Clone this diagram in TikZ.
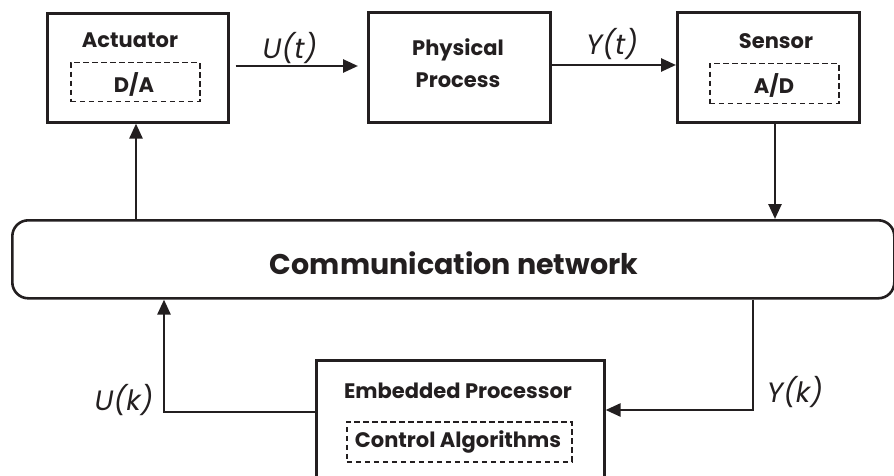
\documentclass[tikz,border=0pt]{standalone}
\usepackage{fontspec}
\setmainfont{Poppins}
\usetikzlibrary{arrows.meta}
\definecolor{ink}{HTML}{231F20}
\begin{document}
\begin{tikzpicture}[x=1pt,y=-1pt,
  box/.style={draw=ink,line width=2.6pt},
  dbox/.style={draw=ink,line width=1.5pt,dash pattern=on 5.5pt off 3.5pt},
  lbl/.style={font=\bfseries\fontsize{21}{32}\selectfont,text=ink,inner sep=0pt},
  sig/.style={font=\itshape\fontsize{28}{32}\selectfont,text=ink,inner sep=0pt},
  conn/.style={draw=ink,line width=2.6pt,-{Triangle[length=15pt,width=13pt]}}]
\useasboundingbox (0,0) rectangle (894,476);
\clip (0,0) rectangle (894,476);
% Actuator
\node[box,minimum width=181pt,minimum height=109pt,anchor=north west] (act) at (46,12) {};
\node[lbl] (actl) at (130,40) {Actuator};
\node[dbox,minimum width=129pt,minimum height=39pt,anchor=north west] (da) at (70,62) {};
\node[lbl] (dal) at (134,84) {D/A};
% Physical process
\node[box,minimum width=182pt,minimum height=110pt,anchor=north west] (pp) at (367,11) {};
\node[lbl,align=center] (ppl) at (458,63) {Physical\\Process};
% Sensor
\node[box,minimum width=182pt,minimum height=110pt,anchor=north west] (sen) at (676,11) {};
\node[lbl] (senl) at (776,41) {Sensor};
\node[dbox,minimum width=129pt,minimum height=40pt,anchor=north west] (ad) at (709,63) {};
\node[lbl] (adl) at (774,85) {A/D};
% Network
\node[box,rounded corners=16pt,minimum width=882pt,minimum height=78pt,anchor=north west] (net) at (11,219) {};
\node[lbl,font=\bfseries\fontsize{28.5}{32}\selectfont] (netl) at (454,263) {Communication network};
% Embedded processor
\node[box,minimum width=288pt,minimum height=140pt,anchor=north west] (emb) at (315,359) {};
\node[lbl] (embl) at (458,391) {Embedded Processor};
\node[dbox,minimum width=225pt,minimum height=40pt,anchor=north west] (ca) at (346,421) {};
\node[lbl] (cal) at (458,442) {Control Algorithms};
% connectors
\draw[conn] (act.east |- 0,66) ++(6,0) -- ([xshift=-9pt]pp.west |- 0,66);
\node[sig] (ut) at (290,48) {U(t)};
\draw[conn] (pp.east |- 0,65) -- (sen.west |- 0,65);
\node[sig] (yt) at (612,44) {Y(t)};
\draw[conn] (net.north -| 136,0) -- (act.south -| 136,0);
\draw[conn] (sen.south -| 775,0) -- (net.north -| 775,0);
\draw[conn] (emb.west |- 0,412) -| (net.south -| 164,0);
\node[sig] (uk) at (124,400) {U(k)};
\draw[conn] (net.south -| 753,0) |- (emb.east |- 0,410);
\node[sig] (yk) at (795,392) {Y(k)};
\end{tikzpicture}
\end{document}
